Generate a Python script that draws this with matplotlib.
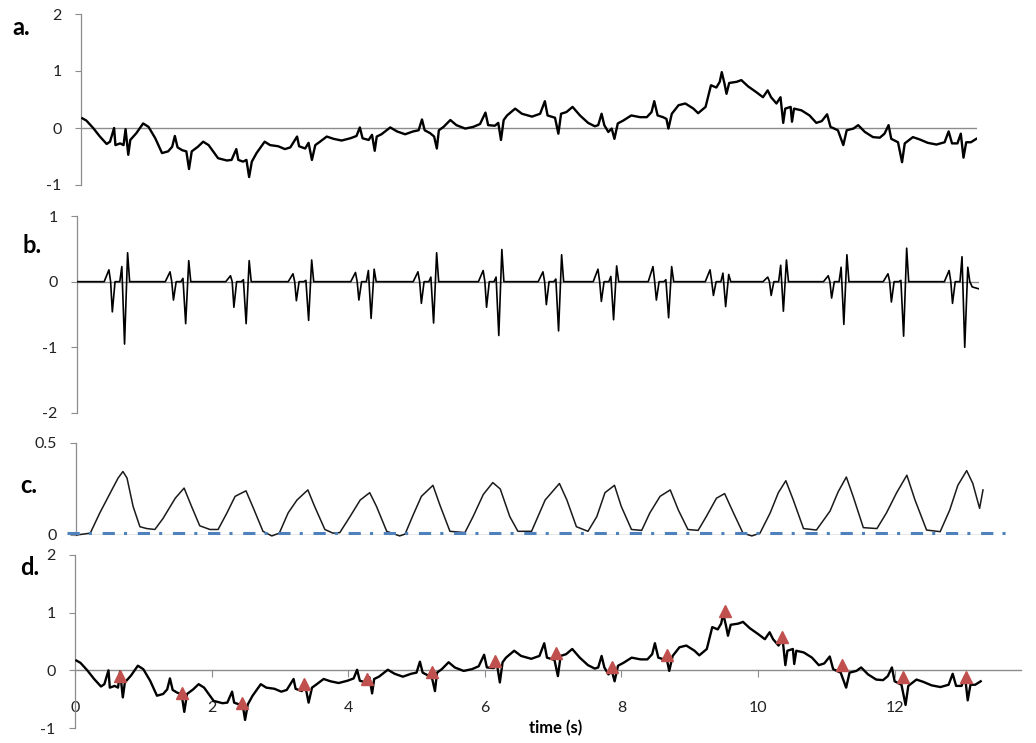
import matplotlib
matplotlib.use("Agg")
import matplotlib.pyplot as plt
import numpy as np

plt.rcParams['font.family'] = ['Lato', 'DejaVu Sans']

# ---- raw ECG (panels a and d) ----
raw_t = [0.02, 0.08, 0.18, 0.28, 0.38, 0.43, 0.49, 0.51, 0.58, 0.63, 0.66, 0.70, 0.73, 0.82,
         0.92, 1.00, 1.10, 1.20, 1.29, 1.35, 1.39, 1.43, 1.50, 1.56, 1.60, 1.64, 1.73, 1.81,
         1.89, 2.03, 2.16, 2.23, 2.30, 2.33, 2.40, 2.45, 2.49, 2.53, 2.60, 2.72, 2.80, 2.92,
         3.02, 3.10, 3.20, 3.23, 3.32, 3.37, 3.42, 3.47, 3.54, 3.64, 3.74, 3.86, 3.99, 4.08,
         4.13, 4.17, 4.26, 4.31, 4.35, 4.38, 4.45, 4.58, 4.68, 4.80, 4.92, 5.00, 5.05, 5.09,
         5.17, 5.23, 5.27, 5.30, 5.37, 5.47, 5.56, 5.69, 5.81, 5.91, 5.99, 6.03, 6.13, 6.18,
         6.22, 6.26, 6.31, 6.43, 6.53, 6.68, 6.80, 6.87, 6.91, 7.02, 7.07, 7.11, 7.19, 7.28,
         7.39, 7.51, 7.61, 7.66, 7.71, 7.75, 7.81, 7.86, 7.90, 7.95, 8.03, 8.15, 8.28, 8.38,
         8.45, 8.49, 8.54, 8.62, 8.67, 8.70, 8.75, 8.85, 8.95, 9.07, 9.14, 9.25, 9.33, 9.41,
         9.46, 9.49, 9.53, 9.56, 9.60, 9.71, 9.78, 9.88, 10.00, 10.10, 10.17, 10.22, 10.30,
         10.36, 10.40, 10.43, 10.51, 10.53, 10.56, 10.67, 10.79, 10.89, 10.97, 11.05, 11.10,
         11.21, 11.29, 11.34, 11.44, 11.51, 11.61, 11.73, 11.83, 11.90, 11.96, 12.00, 12.10,
         12.16, 12.20, 12.32, 12.42, 12.54, 12.67, 12.79, 12.85, 12.90, 12.98, 13.03, 13.07,
         13.11, 13.18, 13.26]
raw_v = [0.17, 0.13, 0.00, -0.15, -0.28, -0.24, 0.00, -0.30, -0.27, -0.30, -0.02, -0.47, -0.21, -0.09,
         0.08, 0.02, -0.18, -0.44, -0.41, -0.33, -0.14, -0.34, -0.39, -0.41, -0.72, -0.41, -0.33, -0.24,
         -0.30, -0.53, -0.57, -0.56, -0.37, -0.56, -0.59, -0.56, -0.86, -0.59, -0.44, -0.24, -0.30, -0.32,
         -0.37, -0.34, -0.15, -0.32, -0.36, -0.26, -0.56, -0.30, -0.24, -0.15, -0.19, -0.22, -0.18, -0.14,
         0.01, -0.18, -0.21, -0.12, -0.40, -0.15, -0.11, 0.01, -0.06, -0.11, -0.06, -0.04, 0.15, -0.04,
         -0.09, -0.15, -0.36, -0.04, 0.02, 0.14, 0.05, -0.01, 0.02, 0.07, 0.27, 0.05, 0.04, 0.09,
         -0.21, 0.14, 0.22, 0.34, 0.25, 0.20, 0.25, 0.47, 0.22, 0.18, -0.10, 0.25, 0.28, 0.37,
         0.22, 0.09, 0.03, 0.05, 0.25, 0.05, -0.07, -0.01, -0.19, 0.08, 0.13, 0.22, 0.19, 0.19,
         0.28, 0.47, 0.22, 0.19, 0.16, -0.01, 0.25, 0.40, 0.43, 0.34, 0.26, 0.37, 0.75, 0.71,
         0.81, 0.98, 0.78, 0.60, 0.79, 0.81, 0.84, 0.73, 0.63, 0.54, 0.66, 0.54, 0.43,
         0.54, 0.09, 0.34, 0.37, 0.11, 0.34, 0.31, 0.22, 0.09, 0.12, 0.24, 0.02,
         -0.04, -0.30, -0.04, -0.01, 0.05, -0.07, -0.16, -0.17, -0.10, 0.05, -0.19, -0.25,
         -0.60, -0.27, -0.16, -0.20, -0.26, -0.29, -0.25, -0.06, -0.27, -0.27, -0.10, -0.52,
         -0.25, -0.25, -0.19]

# ---- filtered ECG (panel b): per-beat extremes around the main negative deflection ----
beat_t = [0.70, 1.60, 2.49, 3.41, 4.33, 5.25, 6.21, 7.09, 7.90, 8.71, 9.55, 10.40, 11.29, 12.17, 13.07]
b_p1 = [0.18, 0.15, 0.09, 0.12, 0.14, 0.15, 0.17, 0.15, 0.19, 0.23, 0.18, 0.07, 0.09, 0.12, 0.17]
b_n1 = [-0.46, -0.28, -0.39, -0.29, -0.28, -0.33, -0.39, -0.35, -0.30, -0.28, -0.21, -0.21, -0.25, -0.31, -0.33]
b_p2 = [0.23, 0.05, 0.03, 0.02, 0.17, 0.07, 0.07, 0.04, 0.08, 0.03, 0.13, 0.25, 0.22, 0.02, 0.38]
b_n2 = [-0.95, -0.64, -0.64, -0.59, -0.56, -0.63, -0.82, -0.75, -0.58, -0.55, -0.38, -0.45, -0.65, -0.83, -1.00]
b_p3 = [0.44, 0.32, 0.32, 0.33, 0.19, 0.44, 0.49, 0.41, 0.24, 0.23, 0.11, 0.33, 0.41, 0.51, 0.22]
b_tail_t = [13.18, 13.28]
b_tail_v = [-0.08, -0.11]

# ---- envelope (panel c) ----
env_t = [0.01, 0.21, 0.35, 0.52, 0.62, 0.69, 0.75, 0.84, 0.94, 1.04, 1.16,
         1.28, 1.46, 1.59, 1.70, 1.82, 1.97, 2.09,
         2.22, 2.34, 2.50, 2.61, 2.75, 2.88, 2.99,
         3.12, 3.25, 3.41, 3.51, 3.66, 3.78, 3.88,
         4.03, 4.18, 4.32, 4.42, 4.57, 4.76, 4.84,
         4.96, 5.08, 5.25, 5.35, 5.50, 5.72,
         5.84, 5.99, 6.13, 6.24, 6.38, 6.50, 6.70,
         6.90, 7.11, 7.22, 7.36, 7.53,
         7.66, 7.78, 7.92, 8.02, 8.17, 8.32,
         8.44, 8.59, 8.74, 8.86, 9.00, 9.15,
         9.27, 9.42, 9.54, 9.67, 9.81, 9.94, 10.06,
         10.21, 10.33, 10.44, 10.55, 10.70, 10.89,
         11.09, 11.21, 11.33, 11.43, 11.58, 11.78,
         11.92, 12.07, 12.22, 12.34, 12.51, 12.71,
         12.85, 12.97, 13.10, 13.19, 13.29, 13.34]
env_v = [0.0, 0.01, 0.12, 0.24, 0.31, 0.345, 0.31, 0.155, 0.045, 0.035, 0.03,
         0.09, 0.20, 0.255, 0.155, 0.05, 0.03, 0.03,
         0.12, 0.21, 0.24, 0.145, 0.02, -0.005, 0.01,
         0.12, 0.19, 0.245, 0.155, 0.03, 0.01, 0.013,
         0.10, 0.19, 0.23, 0.155, 0.02, -0.005, 0.005,
         0.11, 0.21, 0.27, 0.165, 0.02, 0.013,
         0.10, 0.22, 0.285, 0.25, 0.10, 0.02, 0.02,
         0.19, 0.28, 0.19, 0.045, 0.02,
         0.10, 0.23, 0.27, 0.155, 0.03, 0.025,
         0.12, 0.21, 0.245, 0.135, 0.03, 0.025,
         0.10, 0.20, 0.225, 0.12, 0.01, -0.005, 0.01,
         0.12, 0.23, 0.295, 0.19, 0.035, 0.027,
         0.13, 0.235, 0.315, 0.21, 0.04, 0.035,
         0.12, 0.23, 0.325, 0.19, 0.027, 0.018,
         0.135, 0.27, 0.35, 0.28, 0.145, 0.245]
threshold = 0.01

# ---- detected beats (panel d) ----
mark_t = [0.66, 1.56, 2.45, 3.36, 4.28, 5.22, 6.15, 7.04, 7.86, 8.67, 9.52, 10.35, 11.23, 12.12, 13.05]
mark_v = [-0.09, -0.40, -0.56, -0.23, -0.15, -0.03, 0.17, 0.30, 0.05, 0.26, 1.03, 0.57, 0.09, -0.12, -0.12]

W, H = 1036, 743
GRAY = '#8c8c8c'


def rect(left, right, top, bottom):
    return [left / W, 1 - bottom / H, (right - left) / W, (bottom - top) / H]


def style(ax, yticks, labels):
    for s in ['top', 'right', 'bottom']:
        ax.spines[s].set_visible(False)
    ax.spines['left'].set_color(GRAY)
    ax.spines['left'].set_linewidth(0.9)
    ax.set_yticks(yticks)
    ax.set_yticklabels(labels)
    ax.tick_params(axis='y', direction='out', length=4, width=0.8, color=GRAY,
                   labelsize=11.5, pad=10, labelcolor='#222222')
    ax.set_xticks([])
    ax.patch.set_alpha(0)


def filtered_trace():
    offs = [-0.30, -0.23, -0.205, -0.18, -0.14, -0.07, -0.04, 0.0, 0.045, 0.075]
    t, v = [0.0], [0.0]
    for i, bt in enumerate(beat_t):
        amps = [0, b_p1[i], 0, b_n1[i], 0, 0, b_p2[i], b_n2[i], b_p3[i], 0]
        for o, a in zip(offs, amps):
            t.append(bt + o)
            v.append(a)
    t += b_tail_t
    v += b_tail_v
    return t, v


fig = plt.figure(figsize=(W / 100, H / 100), dpi=100)

# a.
ax_a = fig.add_axes(rect(81, 977, 14, 185))
ax_a.axhline(0, color=GRAY, lw=1.0, zorder=1)
ax_a.plot(raw_t, raw_v, color='black', lw=1.7, zorder=3)
ax_a.set_xlim(0, 13.27)
ax_a.set_ylim(-1, 2)
style(ax_a, [-1, 0, 1, 2], ['-1', '0', '1', '2'])

# b.
ax_b = fig.add_axes(rect(77, 979, 216, 413))
ax_b.axhline(0, color=GRAY, lw=1.0, zorder=1)
bt, bv = filtered_trace()
ax_b.plot(bt, bv, color='black', lw=1.2, zorder=3)
ax_b.set_xlim(0, 13.28)
ax_b.set_ylim(-2, 1)
style(ax_b, [-2, -1, 0, 1], ['-2', '-1', '0', '1'])

# c.
ax_c = fig.add_axes(rect(76, 983, 443, 535))
ax_c.axhline(0, color=GRAY, lw=1.0, zorder=1)
ax_c.plot(env_t, env_v, color='#1a1a1a', lw=1.1, zorder=3, clip_on=False)
ax_c.plot([-0.13, 13.7], [threshold, threshold], color='#4F81BD', lw=2.2,
          dashes=(4, 3, 1, 3.5), solid_capstyle='butt', dash_capstyle='butt',
          zorder=4, clip_on=False)
ax_c.set_xlim(0, 13.34)
ax_c.set_ylim(0, 0.5)
style(ax_c, [0, 0.5], ['0', '0.5'])

# d.
ax_d = fig.add_axes(rect(75, 1021, 555, 728))
ax_d.plot(raw_t, raw_v, color='black', lw=1.7, zorder=3)
ax_d.plot(mark_t, mark_v, linestyle='none', marker='^', markersize=8.5,
          color='#C0504D', zorder=4)
ax_d.set_xlim(0, 13.85)
ax_d.set_ylim(-1, 2)
style(ax_d, [-1, 0, 1, 2], ['-1', '0', '1', '2'])
ax_d.spines['bottom'].set_visible(True)
ax_d.spines['bottom'].set_position(('data', 0))
ax_d.spines['bottom'].set_color(GRAY)
ax_d.spines['bottom'].set_linewidth(1.0)
ax_d.set_xticks(range(0, 13, 2))
ax_d.tick_params(axis='x', direction='out', length=5, width=0.8, color=GRAY,
                 labelsize=11.5, pad=17, labelcolor='#222222')

fig.text(556 / W, 1 - 728 / H, 'time (s)', ha='center', va='center',
         fontsize=12, fontweight='bold')

for label, x, y in [('a.', 12, 35), ('b.', 22, 253), ('c.', 20, 493), ('d.', 20, 575)]:
    fig.text(x / W, 1 - y / H, label, ha='left', va='baseline', fontsize=17,
             fontweight='bold')

fig.savefig('out.png', dpi=100)
